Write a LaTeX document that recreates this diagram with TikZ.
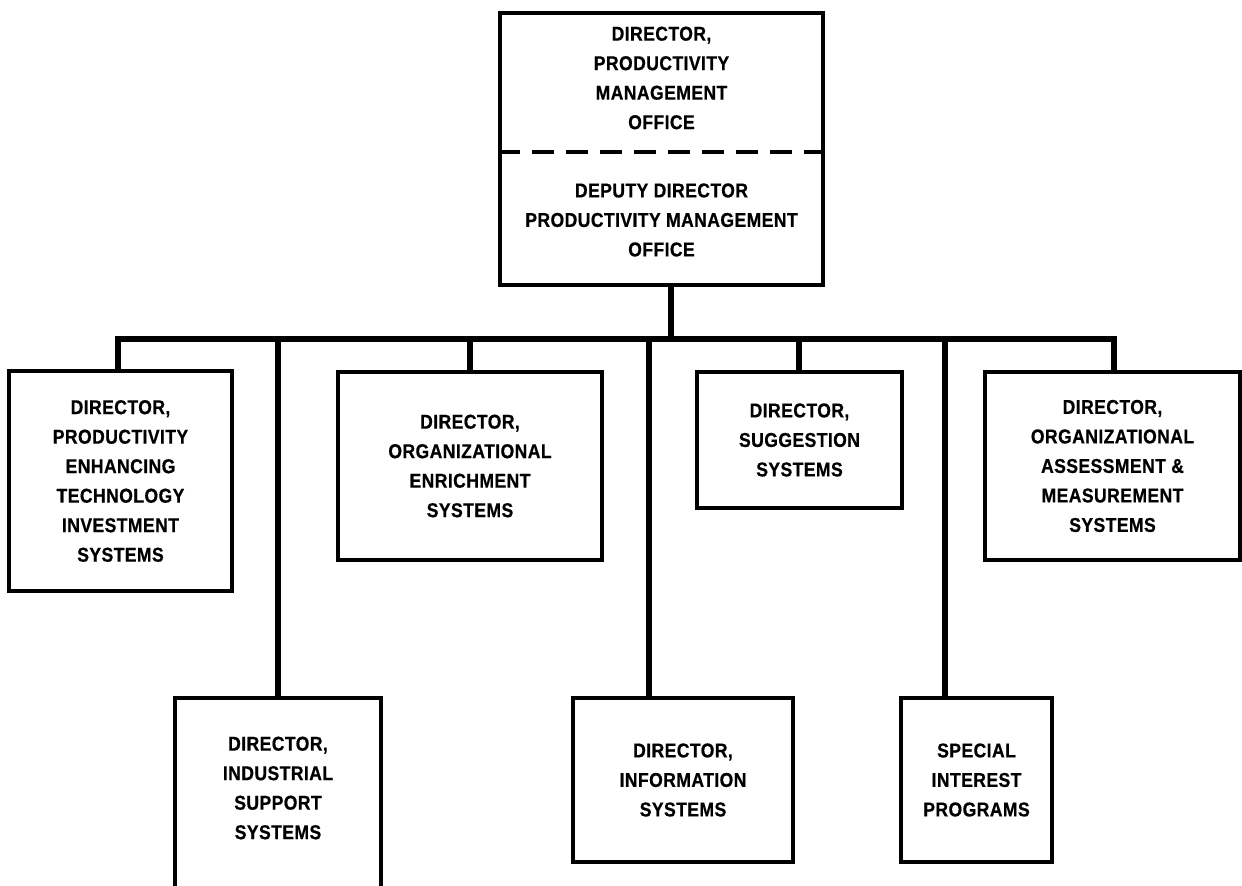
\documentclass[tikz,border=0pt]{standalone}
\usepackage{fontspec}
\setmainfont{Liberation Sans}[FakeStretch=0.88,LetterSpace=2,BoldFeatures={FakeBold=0.6}]
\begin{document}
\begin{tikzpicture}[x=0.5pt,y=-0.5pt,
  box/.style={draw,line width=1.6pt,rectangle,inner sep=0pt,align=center,
    font=\fontsize{10}{14.75}\selectfont\bfseries},
  txt/.style={inner sep=0pt,align=center,font=\fontsize{10}{14.75}\selectfont\bfseries},
  conn/.style={line width=2.6pt,line join=miter},
  sep/.style={line width=1.6pt,dash pattern=on 11pt off 6pt}]
\useasboundingbox (0,0) rectangle (1242,886);
\clip (0,0) rectangle (1242,886);
% top box
\node[box,minimum width=161.5pt,minimum height=136pt] (top) at (661.5,149) {};
\node[txt] (topA) at (661.5,78) {DIRECTOR,\\PRODUCTIVITY\\MANAGEMENT\\OFFICE};
\node[txt] (topB) at (661.5,220) {DEPUTY DIRECTOR\\PRODUCTIVITY MANAGEMENT\\OFFICE};
\coordinate (sepy) at (0,152);
\draw[sep] (top.west |- sepy) -- (top.east |- sepy);
% upper row
\node[box,minimum width=111.5pt,minimum height=110pt] (petis) at (120.5,481)
  {DIRECTOR,\\PRODUCTIVITY\\ENHANCING\\TECHNOLOGY\\INVESTMENT\\SYSTEMS};
\node[box,minimum width=132pt,minimum height=94pt] (oes) at (470,466)
  {DIRECTOR,\\ORGANIZATIONAL\\ENRICHMENT\\SYSTEMS};
\node[box,minimum width=102.5pt,minimum height=68pt] (sugg) at (799.5,440)
  {DIRECTOR,\\SUGGESTION\\SYSTEMS};
\node[box,minimum width=127.5pt,minimum height=94pt] (assess) at (1112.5,466)
  {DIRECTOR,\\ORGANIZATIONAL\\ASSESSMENT \&\\MEASUREMENT\\SYSTEMS};
% lower row
\node[box,minimum width=103pt,minimum height=106pt] (ind) at (278,804) {};
\node[txt] (indtext) at (278,788) {DIRECTOR,\\INDUSTRIAL\\SUPPORT\\SYSTEMS};
\node[box,minimum width=110pt,minimum height=82pt] (info) at (683,780)
  {DIRECTOR,\\INFORMATION\\SYSTEMS};
\node[box,minimum width=75.5pt,minimum height=82pt] (spec) at (976.5,780)
  {SPECIAL\\INTEREST\\PROGRAMS};
% connectors
\coordinate (bl) at (118,339);
\coordinate (br) at (1114,339);
\coordinate (sTop) at (671,339);
\coordinate (sInd) at (278,339);
\coordinate (sOes) at (470,339);
\coordinate (sInfo) at (649,339);
\coordinate (sSugg) at (799,339);
\coordinate (sSpec) at (945,339);
\draw[conn] (sTop |- top.south) -- (sTop);
\draw[conn] (bl |- petis.north) -- (bl) -- (br) -- (br |- assess.north);
\draw[conn] (sInd) -- (sInd |- ind.north);
\draw[conn] (sOes) -- (sOes |- oes.north);
\draw[conn] (sInfo) -- (sInfo |- info.north);
\draw[conn] (sSugg) -- (sSugg |- sugg.north);
\draw[conn] (sSpec) -- (sSpec |- spec.north);
\end{tikzpicture}
\end{document}
